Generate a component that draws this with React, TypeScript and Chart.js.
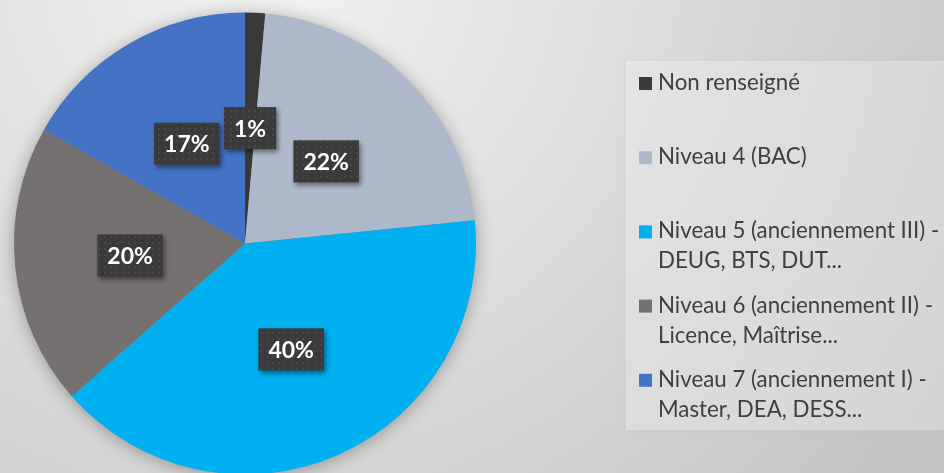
import React, { useEffect, useRef } from "react";
import { Chart, registerables } from "chart.js";

Chart.register(...registerables);

const categories = [
  "Non renseigné",
  "Niveau 4 (BAC)",
  "Niveau 5 (anciennement III) - DEUG, BTS, DUT...",
  "Niveau 6 (anciennement II) - Licence, Maîtrise...",
  "Niveau 7 (anciennement I) - Master, DEA, DESS...",
];
const values = [1.4, 22.0, 40.1, 19.7, 16.8];
const colors = ["#3b3838", "#adb9ca", "#00b0f0", "#767171", "#4472c4"];

function wrapLabel(s: string): string[] {
  const i = s.indexOf(" - ");
  if (i < 0) return [s];
  return [s.slice(0, i + 2), s.slice(i + 3)];
}

function makePattern(ctx: CanvasRenderingContext2D) {
  const c = document.createElement("canvas");
  c.width = 6;
  c.height = 6;
  const p = c.getContext("2d")!;
  p.fillStyle = "#3a3a3a";
  p.fillRect(0, 0, 6, 6);
  p.fillStyle = "#474747";
  p.fillRect(2, 2, 2, 2);
  return ctx.createPattern(c, "repeat")!;
}

const decorPlugin = {
  id: "decor",
  beforeDraw(chart: any) {
    const { ctx, width, height } = chart;
    ctx.save();
    const g = ctx.createRadialGradient(260, -40, 0, 260, -40, 950);
    g.addColorStop(0, "#f4f4f4");
    g.addColorStop(1, "#bcbcbc");
    ctx.fillStyle = g;
    ctx.fillRect(0, 0, width, height);
    ctx.shadowColor = "rgba(0,0,0,0.1)";
    ctx.shadowBlur = 6;
    ctx.fillStyle = "rgba(255,255,255,0.35)";
    ctx.fillRect(626, 61, width - 626 + 10, 369);
    ctx.restore();
  },
  beforeDatasetsDraw(chart: any) {
    const { ctx } = chart;
    const arc = chart.getDatasetMeta(0).data[0];
    if (!arc) return;
    const { x, y, outerRadius } = arc.getProps(["x", "y", "outerRadius"], true);
    ctx.save();
    ctx.shadowColor = "rgba(0,0,0,0.35)";
    ctx.shadowBlur = 18;
    ctx.shadowOffsetY = 2;
    ctx.beginPath();
    ctx.arc(x, y, outerRadius - 1, 0, Math.PI * 2);
    ctx.fillStyle = "#888";
    ctx.fill();
    ctx.restore();
  },
  afterDatasetsDraw(chart: any) {
    const { ctx } = chart;
    const data: number[] = chart.data.datasets[0].data;
    const total = data.reduce((a, b) => a + b, 0);
    const pattern = makePattern(ctx);
    ctx.save();
    ctx.font = "bold 23px Lato";
    ctx.textAlign = "center";
    ctx.textBaseline = "middle";
    chart.getDatasetMeta(0).data.forEach((arc: any, i: number) => {
      const pos = arc.tooltipPosition(true);
      const text = Math.round((data[i] / total) * 100) + "%";
      const w = ctx.measureText(text).width + 20;
      const h = 42;
      ctx.save();
      ctx.shadowColor = "rgba(0,0,0,0.45)";
      ctx.shadowBlur = 5;
      ctx.shadowOffsetX = 2;
      ctx.shadowOffsetY = 3;
      ctx.fillStyle = pattern;
      ctx.fillRect(pos.x - w / 2, pos.y - h / 2, w, h);
      ctx.restore();
      ctx.fillStyle = "#ffffff";
      ctx.fillText(text, pos.x, pos.y + 1);
    });
    ctx.restore();
  },
  afterDraw(chart: any) {
    const { ctx } = chart;
    const labels: string[] = chart.data.labels;
    const bg: string[] = chart.data.datasets[0].backgroundColor;
    ctx.save();
    ctx.font = "22.3px Lato";
    ctx.textAlign = "left";
    ctx.textBaseline = "alphabetic";
    labels.forEach((lab, i) => {
      const base = 90 + i * 74.2;
      ctx.fillStyle = bg[i];
      ctx.fillRect(639, base - 13, 13, 13);
      ctx.fillStyle = "#3f3f3f";
      wrapLabel(lab).forEach((line, j) => {
        ctx.fillText(line, 658, base + j * 30);
      });
    });
    ctx.restore();
  },
};

export default function App() {
  const ref = useRef<HTMLCanvasElement>(null);
  useEffect(() => {
    if (!ref.current) return;
    const chart = new Chart(ref.current, {
      type: "pie",
      data: {
        labels: categories,
        datasets: [
          {
            data: values,
            backgroundColor: colors,
            borderWidth: 0,
            radius: 231,
            clip: false,
          } as any,
        ],
      },
      options: {
        responsive: true,
        maintainAspectRatio: false,
        animation: false,
        layout: { padding: { left: 0, right: 454, top: 14, bottom: 0 } },
        plugins: {
          legend: { display: false },
          tooltip: { enabled: false },
        },
      },
      plugins: [decorPlugin],
    });
    return () => chart.destroy();
  }, []);
  return (
    <div style={{ position: "fixed", left: 0, top: 0, width: 944, height: 473 }}>
      <canvas ref={ref} />
    </div>
  );
}
